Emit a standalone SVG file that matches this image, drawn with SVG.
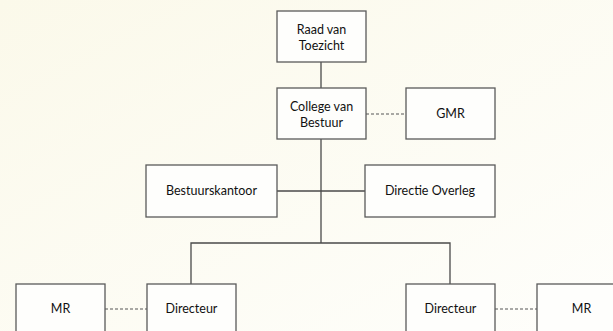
<svg xmlns="http://www.w3.org/2000/svg" width="613" height="331" viewBox="0 0 613 331">
<defs>
<linearGradient id="bg" x1="0" y1="0" x2="1" y2="1">
<stop offset="0" stop-color="#fbf9ea"/>
<stop offset="1" stop-color="#fefefb"/>
</linearGradient>
<style>
.box{fill:#fefefc;stroke:#5a5a5a;stroke-width:1.3}
.t{font-family:Lato,"Open Sans","Liberation Sans",sans-serif;font-size:12.5px;fill:#111;text-anchor:middle}
.ln{stroke:#4a4a4a;stroke-width:1.3;fill:none}
.dash{stroke:#555;stroke-width:1;stroke-dasharray:3 2;fill:none}
</style>
</defs>
<rect width="613" height="331" fill="url(#bg)"/>
<g id="connectors">
<line class="ln" x1="321" y1="62" x2="321" y2="88"/>
<line class="ln" x1="321" y1="139" x2="321" y2="243"/>
<line class="ln" x1="277" y1="191" x2="365" y2="191"/>
<polyline class="ln" points="191,284 191,243 450,243 450,284"/>
<line class="dash" x1="366" y1="114" x2="406" y2="114"/>
<line class="dash" x1="105" y1="309" x2="147" y2="309"/>
<line class="dash" x1="495" y1="309" x2="537" y2="309"/>
</g>
<g id="raad">
<rect class="box" x="277" y="11" width="89" height="51"/>
<text class="t" x="321.5" y="34">Raad van</text>
<text class="t" x="321.5" y="50">Toezicht</text>
</g>
<g id="college">
<rect class="box" x="277" y="88" width="89" height="51"/>
<text class="t" x="321.5" y="111">College van</text>
<text class="t" x="321.5" y="127">Bestuur</text>
</g>
<g id="gmr">
<rect class="box" x="406" y="88" width="89" height="51"/>
<text class="t" x="450.5" y="118">GMR</text>
</g>
<g id="bestuurskantoor">
<rect class="box" x="146" y="165" width="131" height="52"/>
<text class="t" x="211.5" y="195">Bestuurskantoor</text>
</g>
<g id="directie-overleg">
<rect class="box" x="365" y="165" width="130" height="52"/>
<text class="t" x="430" y="195">Directie Overleg</text>
</g>
<g id="mr-left">
<rect class="box" x="16" y="284" width="89" height="60"/>
<text class="t" x="60.5" y="313">MR</text>
</g>
<g id="directeur-left">
<rect class="box" x="147" y="284" width="89" height="60"/>
<text class="t" x="191.5" y="313">Directeur</text>
</g>
<g id="directeur-right">
<rect class="box" x="406" y="284" width="89" height="60"/>
<text class="t" x="450.5" y="313">Directeur</text>
</g>
<g id="mr-right">
<rect class="box" x="537" y="284" width="89" height="60"/>
<text class="t" x="581.5" y="313">MR</text>
</g>
</svg>
